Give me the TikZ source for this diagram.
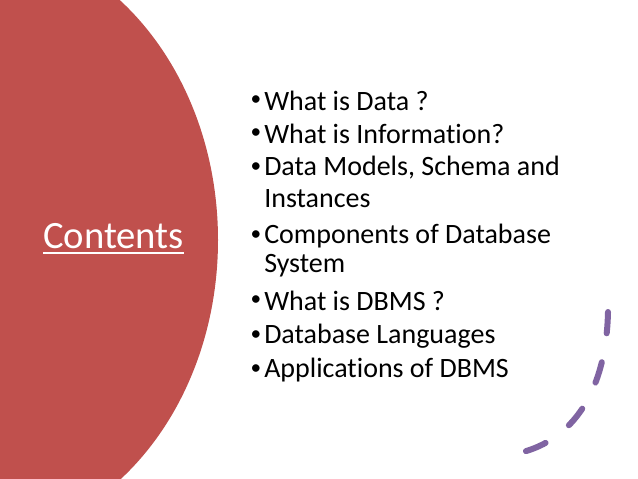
\documentclass[tikz,border=0pt]{standalone}
\usepackage{fontspec}
\setmainfont[RawFeature=-liga]{Carlito}
\definecolor{slidered}{HTML}{C0504D}
\definecolor{slidepurple}{HTML}{8064A2}
\begin{document}
\begin{tikzpicture}[x=0.75pt,y=-0.75pt,
  item/.style={anchor=west,inner sep=0pt,font=\fontsize{21}{21}\selectfont}]
\useasboundingbox[fill=white] (0,0) rectangle (638,478);
\begin{scope}
\clip (0,0) rectangle (638,478);
\fill[slidered] (-30,240) ellipse [x radius=248, y radius=301];
\end{scope}
\node[anchor=west,inner sep=0pt,text=white,font=\fontsize{29}{29}\selectfont] (title) at (43,236) {Contents};
\draw[white,line width=1.5pt] ([yshift=-3pt]title.south west) -- ([yshift=-3pt]title.south east);
\foreach \y/\b/\t [count=\i] in {101/1/What is Data ?,134/1/What is Information?,168/1/{Data Models, Schema and},199/0/Instances,236/1/Components of Database,266/0/System,301/1/What is DBMS ?,336/1/Database Languages,370/1/Applications of DBMS}{
  \node[item] (t\i) at (264,\y) {\t};
  \ifnum\b=1 \node[item,anchor=center,font=\fontsize{16}{16}\selectfont] (b\i) at (256,\y) {•};\fi
}
\coordinate (a) at (608,312);
\coordinate (z) at (498,456);
\draw[slidepurple,line width=4.5pt,line cap=round,dash pattern=on 16pt off 22pt] (a) .. controls (606,400) and (565,452) .. (z);
\end{tikzpicture}
\end{document}
